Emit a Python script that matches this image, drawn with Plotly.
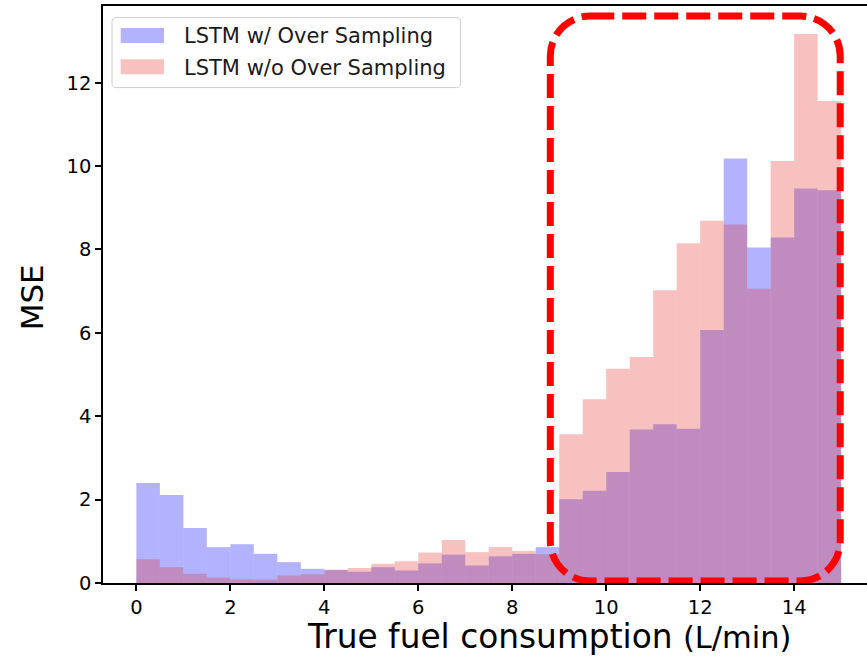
import plotly.graph_objects as go

# Bin left edges (L/min), bin width 0.5
bin_left = [0.0, 0.5, 1.0, 1.5, 2.0, 2.5, 3.0, 3.5, 4.0, 4.5,
            5.0, 5.5, 6.0, 6.5, 7.0, 7.5, 8.0, 8.5, 9.0, 9.5,
            10.0, 10.5, 11.0, 11.5, 12.0, 12.5, 13.0, 13.5, 14.0, 14.5]

mse_with_os = [2.40, 2.11, 1.32, 0.86, 0.93, 0.70, 0.50, 0.34, 0.31, 0.27,
               0.38, 0.30, 0.47, 0.68, 0.42, 0.64, 0.70, 0.86, 2.01, 2.21,
               2.66, 3.68, 3.81, 3.70, 6.07, 10.18, 8.05, 8.29, 9.46, 9.42]

mse_without_os = [0.57, 0.38, 0.22, 0.13, 0.09, 0.08, 0.18, 0.21, 0.32, 0.36,
                  0.46, 0.52, 0.73, 1.03, 0.74, 0.86, 0.77, 0.69, 3.57, 4.41,
                  5.14, 5.42, 7.02, 8.15, 8.69, 8.60, 7.06, 10.12, 13.17, 11.56]

series_names = ["LSTM w/ Over Sampling", "LSTM w/o Over Sampling"]
series_colors = ["rgba(0,0,255,0.3)", "rgba(225,50,40,0.3)"]
x_ticks = [0, 2, 4, 6, 8, 10, 12, 14]
y_ticks = [0, 2, 4, 6, 8, 10, 12]

BIN_W = 0.5
FONT = "DejaVu Sans"

fig = go.Figure()
fig.add_trace(go.Bar(
    x=bin_left, y=mse_with_os, width=BIN_W, offset=0,
    name=series_names[0], showlegend=False,
    marker=dict(color=series_colors[0], line=dict(width=0)),
))
fig.add_trace(go.Bar(
    x=bin_left, y=mse_without_os, width=BIN_W, offset=0,
    name=series_names[1], showlegend=False,
    marker=dict(color=series_colors[1], line=dict(width=0)),
))


def rounded_path(x0, x1, y0, y1, rx, ry):
    k = 0.5523
    c = 1 - k
    return (
        f"M {x0+rx},{y1} L {x1-rx},{y1} "
        f"C {x1-rx*c},{y1} {x1},{y1-ry*c} {x1},{y1-ry} "
        f"L {x1},{y0+ry} "
        f"C {x1},{y0+ry*c} {x1-rx*c},{y0} {x1-rx},{y0} "
        f"L {x0+rx},{y0} "
        f"C {x0+rx*c},{y0} {x0},{y0+ry*c} {x0},{y0+ry} "
        f"L {x0},{y1-ry} "
        f"C {x0},{y1-ry*c} {x0+rx*c},{y1} {x0+rx},{y1} Z"
    )


# Highlight box (rounded dashed rectangle) in data coordinates
fig.add_shape(type="path", path=rounded_path(8.81, 14.98, 0.05, 13.60, 0.85, 0.96),
              xref="x", yref="y", layer="above",
              line=dict(color="rgb(255,0,0)", width=7, dash="24px,8px"))

# Legend (drawn as box + patches + text, matplotlib style)
fig.add_shape(type="path", path=rounded_path(0.0118, 0.468, 0.8586, 0.980, 0.0052, 0.0069),
              xref="paper", yref="paper", layer="above",
              fillcolor="rgba(255,255,255,0.8)", line=dict(color="rgb(204,204,204)", width=1))
legend_rows = [(0.9619, 0.9359, 0.9475), (0.9076, 0.8816, 0.8929)]
for (ytop, ybot, ytxt), name, col in zip(legend_rows, series_names, series_colors):
    fig.add_shape(type="rect", xref="paper", yref="paper", layer="above",
                  x0=0.0232, x1=0.0799, y0=ybot, y1=ytop,
                  fillcolor=col, line=dict(width=0))
    fig.add_annotation(text=name, xref="paper", yref="paper", x=0.1034, y=ytxt,
                       showarrow=False, xanchor="left", yanchor="middle",
                       font=dict(family=FONT, size=21, color="#1a1a1a"))

fig.add_annotation(text="MSE", xref="paper", yref="paper", x=-0.093, y=0.495,
                   textangle=-90, showarrow=False, xanchor="center", yanchor="middle",
                   font=dict(family=FONT, size=31, color="black"))
fig.add_annotation(text="True fuel consumption <span style='font-size:30.5px'>(L/min)</span>",
                   xref="paper", yref="paper", x=0.585, y=-0.094,
                   showarrow=False, xanchor="center", yanchor="middle",
                   font=dict(family=FONT, size=32.8, color="black"))

fig.update_layout(
    width=867, height=660,
    margin=dict(l=103, r=0, t=6, b=77),
    paper_bgcolor="white", plot_bgcolor="white",
    barmode="overlay",
    font=dict(family=FONT, color="black"),
    showlegend=False,
    xaxis=dict(range=[-0.71, 15.55], tickvals=x_ticks, ticktext=[str(v) for v in x_ticks],
               showgrid=False, zeroline=False, showline=True, linecolor="black",
               linewidth=1.5, mirror=True, ticks="outside", ticklen=6, tickwidth=1.5,
               tickcolor="black", tickfont=dict(family=FONT, size=19.5, color="black")),
    yaxis=dict(range=[0, 13.84], tickvals=y_ticks, ticktext=[str(v) for v in y_ticks],
               showgrid=False, zeroline=False, showline=True, linecolor="black",
               linewidth=1.5, mirror=False, ticks="outside", ticklen=6, tickwidth=1.5,
               tickcolor="black", tickfont=dict(family=FONT, size=19.5, color="black")),
)

fig.write_html("out.html")
